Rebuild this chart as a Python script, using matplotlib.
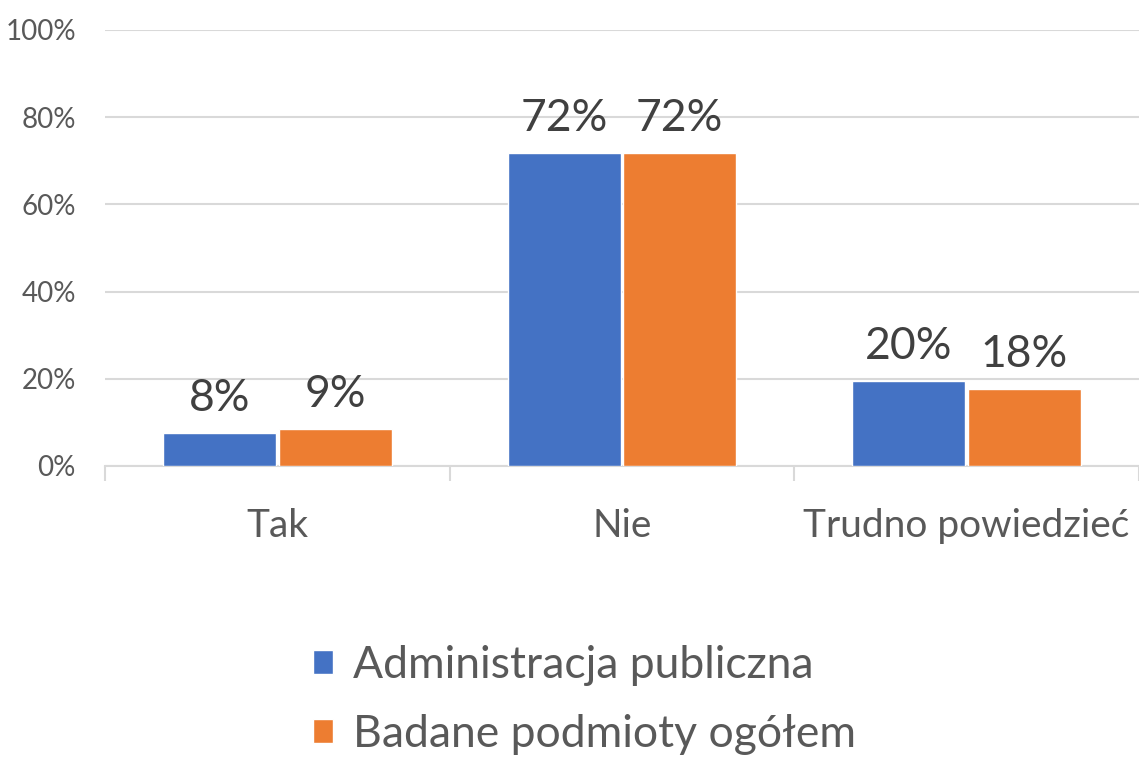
import matplotlib.pyplot as plt
import numpy as np

# data
categories = ['Tak', 'Nie', 'Trudno powiedzieć']
series_names = ['Administracja publiczna', 'Badane podmioty ogółem']
admin = [0.076, 0.718, 0.195]
ogolem = [0.085, 0.718, 0.177]
admin_labels = ['8%', '72%', '20%']
ogolem_labels = ['9%', '72%', '18%']
yticks = [0, 0.2, 0.4, 0.6, 0.8, 1.0]
ytick_labels = ['0%', '20%', '40%', '60%', '80%', '100%']

colors = ['#4472C4', '#ED7D31']
text_col = '#595959'
label_col = '#404040'

plt.rcParams['font.family'] = ['Lato', 'DejaVu Sans']

fig = plt.figure(figsize=(11.39, 7.6), dpi=100)
ax = fig.add_axes([105/1139, 1 - 466/760, 1 - 105/1139, (466 - 30)/760])

x = np.arange(len(categories))
w = 0.328
b1 = ax.bar(x - 0.1675, admin, w, color=colors[0], edgecolor='white', linewidth=1, label=series_names[0], zorder=3)
b2 = ax.bar(x + 0.1675, ogolem, w, color=colors[1], edgecolor='white', linewidth=1, label=series_names[1], zorder=3)

for bars, labs in [(b1, admin_labels), (b2, ogolem_labels)]:
    for bar, lab in zip(bars, labs):
        ax.annotate(lab, (bar.get_x() + bar.get_width()/2, bar.get_height()),
                    xytext=(0, 10), textcoords='offset points',
                    ha='center', va='bottom', fontsize=32, color=label_col)

ax.set_xlim(-0.5, 2.5)
ax.set_ylim(0, 1.0)
ax.set_yticks(yticks)
ax.set_yticklabels(ytick_labels, fontsize=20, color=text_col)
ax.yaxis.grid(True, color='#d9d9d9', linewidth=1.5, zorder=0)
ax.tick_params(axis='y', length=0, pad=21)

# category boundary ticks on x axis
ax.set_xticks([-0.5, 0.5, 1.5, 2.5])
ax.set_xticklabels([])
ax.set_xticks(x, minor=True)
ax.set_xticklabels(categories, minor=True, fontsize=28, color=text_col)
ax.tick_params(axis='x', which='major', length=11, color='#d9d9d9', width=1.5)
ax.tick_params(axis='x', which='minor', length=0, pad=30)

for s in ['top', 'right', 'left']:
    ax.spines[s].set_visible(False)
ax.spines['bottom'].set_color('#d9d9d9')
ax.spines['bottom'].set_linewidth(1.5)

fig.legend(handles=[b1, b2], labels=series_names, loc='center',
           bbox_to_anchor=(585/1139, 1 - 700/760), ncol=1, frameon=False,
           fontsize=32, labelcolor=text_col, handlelength=0.45, handleheight=0.45,
           handletextpad=0.45, labelspacing=0.62)

fig.savefig('out.png', dpi=100)
